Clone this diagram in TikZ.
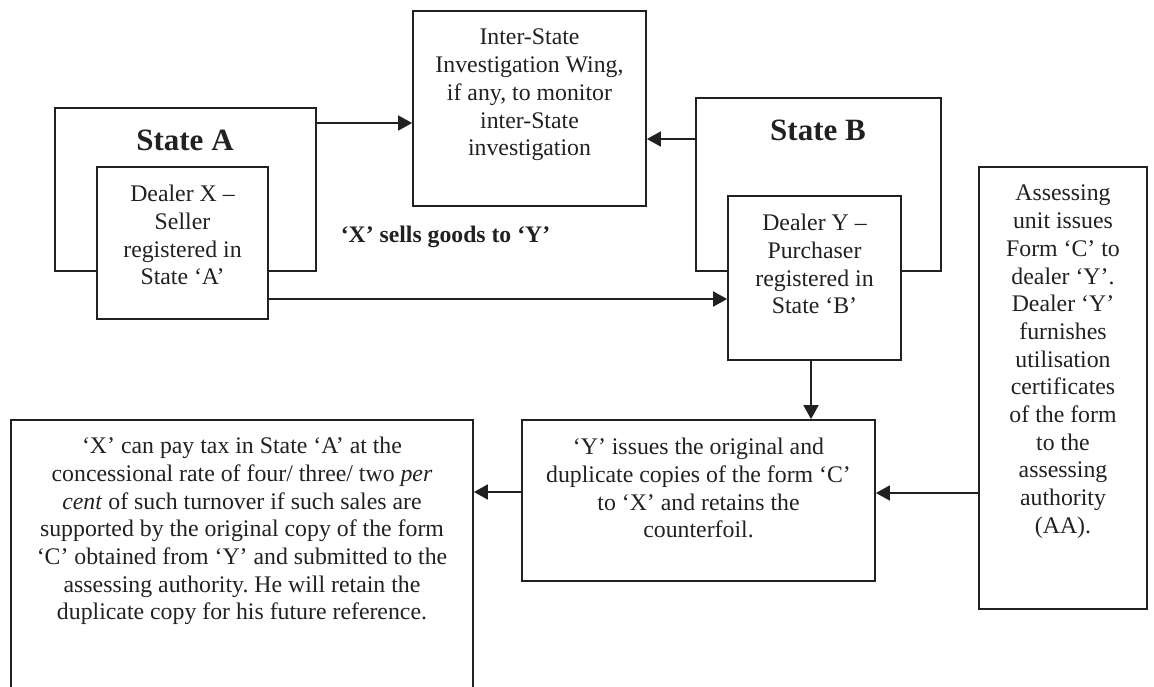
\documentclass[tikz,border=0pt]{standalone}
\usepackage{fontspec}
\setmainfont{Liberation Serif}
\usetikzlibrary{arrows.meta,calc}
\definecolor{ink}{gray}{0.13}
\frenchspacing
\begin{document}
\begin{tikzpicture}[x=1pt,y=-1pt,
  box/.style={draw=ink, line width=1.8pt, inner sep=0pt},
  wbox/.style={box, fill=white},
  txt/.style={align=center, inner sep=0pt, anchor=north, text=ink, font=\fontsize{23.8}{27.7}\selectfont},
  arr/.style={line width=1.8pt, draw=ink, -{Triangle[length=14pt,width=15pt]}},
  ttl/.style={font=\fontsize{31}{35}\selectfont\bfseries, anchor=base, inner sep=0pt, text=ink}]
\useasboundingbox (0,0) rectangle (1154,686);
\clip (0,0) rectangle (1154,686);
% boxes
\node[box, minimum width=261pt, minimum height=163pt] (stateA) at (185.5,189.5) {};
\node[wbox, minimum width=171pt, minimum height=152pt] (dealerX) at (182.5,243) {};
\node[box, minimum width=233pt, minimum height=195pt] (inter) at (529.5,108.5) {};
\node[box, minimum width=245pt, minimum height=173pt] (stateB) at (818.5,184.5) {};
\node[wbox, minimum width=173pt, minimum height=164pt] (dealerY) at (814.5,278) {};
\node[box, minimum width=168pt, minimum height=442pt] (assess) at (1063,388) {};
\node[box, minimum width=353pt, minimum height=161pt] (yissue) at (698.5,500.5) {};
\node[box, minimum width=462pt, minimum height=280pt] (xpay) at (242,560) {};
% titles and texts
\node[ttl] (tA) at (185,150) {State A};
\node[ttl] (tB) at (818,140) {State B};
\node[txt] (txX) at (182.5,185) {Dealer X --\\Seller\\registered in\\State `A'};
\node[txt] (txI) at (529.5,29) {Inter-State\\Investigation Wing,\\if any, to monitor\\inter-State\\investigation};
\node[txt] (txY) at (814.5,214) {Dealer Y --\\Purchaser\\registered in\\State `B'};
\node[txt] (txAs) at (1063,185) {Assessing\\unit issues\\Form `C' to\\dealer `Y'.\\Dealer `Y'\\furnishes\\utilisation\\certificates\\of the form\\to the\\assessing\\authority\\(AA).};
\node[txt] (txYi) at (698.5,438) {`Y' issues the original and\\duplicate copies of the form `C'\\to `X' and retains the\\counterfoil.};
\node[txt] (txXp) at (242,437) {`X' can pay tax in State `A' at the\\concessional rate of four/ three/ two \textit{per}\\\textit{cent} of such turnover if such sales are\\supported by the original copy of the form\\`C' obtained from `Y' and submitted to the\\assessing authority. He will retain the\\duplicate copy for his future reference.};
\node[anchor=base, inner sep=0pt, text=ink, font=\fontsize{23.7}{27}\selectfont\bfseries] (sells) at (445.5,242) {`X' sells goods to `Y'};
% connectors
\draw[arr] (stateA.east |- 0,123) -- (inter.west |- 0,123);
\draw[arr] (stateB.west |- 0,139) -- (inter.east |- 0,139);
\draw[arr] (dealerX.east |- 0,299) -- (dealerY.west |- 0,299);
\draw[arr] (dealerY.south -| 811,0) -- (yissue.north -| 811,0);
\draw[arr] (assess.west |- 0,493) -- (yissue.east |- 0,493);
\draw[arr] (yissue.west |- 0,492) -- (xpay.east |- 0,492);
\end{tikzpicture}
\end{document}
